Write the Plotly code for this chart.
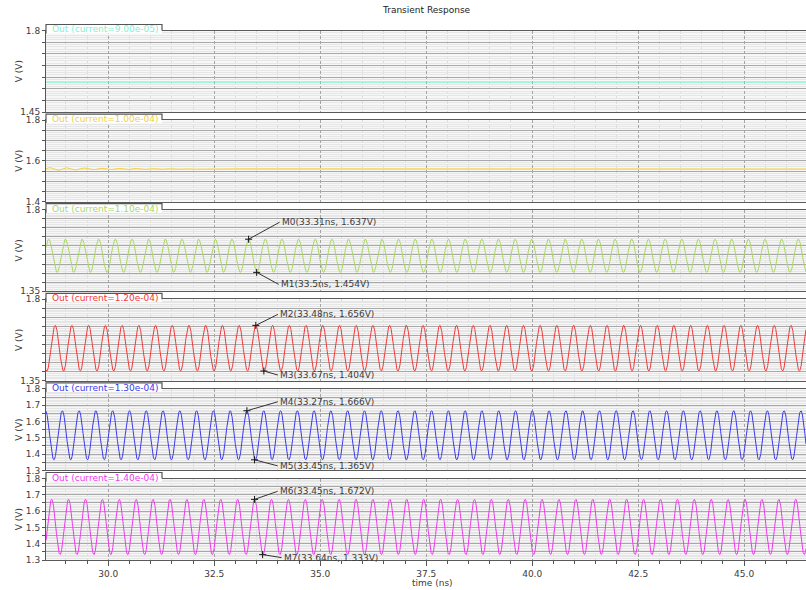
import numpy as np
import plotly.graph_objects as go

# ---------------- data ----------------
currents = ["9.00e-05", "1.00e-04", "1.10e-04", "1.20e-04", "1.30e-04", "1.40e-04"]
trace_colors = ["#7ff2d0", "#f0d040", "#a8d860", "#f03a3a", "#3a3aee", "#ee3aee"]
y_min = [1.45, 1.40, 1.35, 1.35, 1.30, 1.30]
y_max = [1.80, 1.80, 1.80, 1.80, 1.80, 1.80]
y_labels = [
    [1.8, 1.45],
    [1.8, 1.6, 1.4],
    [1.8, 1.35],
    [1.8, 1.35],
    [1.8, 1.7, 1.6, 1.5, 1.4, 1.3],
    [1.8, 1.7, 1.6, 1.5, 1.4, 1.3],
]
x_ticks = [30.0, 32.5, 35.0, 37.5, 40.0, 42.5, 45.0]
t_start, t_end = 28.53, 46.46  # ns, visible window

# panel 1: flat output
level_1 = 1.578
# panel 2: settles to a level with a small decaying ripple
level_2 = 1.560
ripple_2_amp = 0.007
ripple_2_tau = 2.2      # ns
ripple_2_period = 0.40  # ns
ripple_2_peak_t = 28.62

# panels 3..6: steady oscillation (peak time, peak V, trough V, period ns)
osc_peak_t = [33.31, 33.48, 33.27, 33.45]
osc_peak_v = [1.637, 1.656, 1.666, 1.672]
osc_trough_v = [1.454, 1.404, 1.365, 1.333]
osc_period = [0.393, 0.3945, 0.396, 0.399]

# markers
marker_names = ["M0", "M1", "M2", "M3", "M4", "M5", "M6", "M7"]
marker_t = [33.31, 33.5, 33.48, 33.67, 33.27, 33.45, 33.45, 33.64]
marker_v = [1.637, 1.454, 1.656, 1.404, 1.666, 1.365, 1.672, 1.333]
marker_panel = [3, 3, 4, 4, 5, 5, 6, 6]

# ---------------- layout geometry (pixels) ----------------
W, H = 806, 590
ML, MR, MT, MB = 46, 0, 30, 30
PW, PH = W - ML - MR, H - MT - MB
panel_top = [30.5 + 89.6 * i for i in range(6)]
panel_h = 81.5
label_offsets = [(31, -17), (22, 12), (22, -11), (14, 4),
                 (31, -9), (23, 6), (23, -8), (19, 3)]

def px_x(px):
    return (px - ML) / PW

def px_y(py):
    return (H - MB - py) / PH

FONT = "DejaVu Sans"
TXT = "#3c3c3c"

fig = go.Figure()
t = np.linspace(t_start, t_end, 3200)

waves = []
waves.append(np.full_like(t, level_1))
waves.append(level_2 + ripple_2_amp * np.exp(-(t - t_start) / ripple_2_tau)
             * np.cos(2 * np.pi * (t - ripple_2_peak_t) / ripple_2_period))
for k in range(4):
    mid = (osc_peak_v[k] + osc_trough_v[k]) / 2
    amp = (osc_peak_v[k] - osc_trough_v[k]) / 2
    waves.append(mid + amp * np.cos(2 * np.pi * (t - osc_peak_t[k]) / osc_period[k]))

for i in range(6):
    n = "" if i == 0 else str(i + 1)
    fig.add_trace(go.Scatter(x=t, y=waves[i], mode="lines",
                             line=dict(color=trace_colors[i], width=1),
                             xaxis="x" + n, yaxis="y" + n, showlegend=False,
                             hoverinfo="skip"))

# markers
for j in range(len(marker_names)):
    p = marker_panel[j]
    n = "" if p == 1 else str(p)
    fig.add_trace(go.Scatter(x=[marker_t[j]], y=[marker_v[j]], mode="markers",
                             marker=dict(symbol="cross-thin", size=5,
                                         line=dict(color="#111", width=1)),
                             xaxis="x" + n, yaxis="y" + n, showlegend=False,
                             hoverinfo="skip"))

layout = dict(
    width=W, height=H,
    margin=dict(l=ML, r=MR, t=MT, b=MB),
    paper_bgcolor="white", plot_bgcolor="#f7f7f7",
    font=dict(family=FONT, size=9, color=TXT),
    showlegend=False,
)

annotations = []
shapes = []
for i in range(6):
    n = "" if i == 0 else str(i + 1)
    top = panel_top[i]
    bot = top + panel_h
    dom = [px_y(bot), px_y(top)]
    tv = [round(v, 2) for v in np.arange(y_min[i], y_max[i] + 1e-9, 0.05)]
    tt = [(f"{v:g}" if any(abs(v - L) < 1e-9 for L in y_labels[i]) else "") for v in tv]
    layout["yaxis" + n] = dict(
        domain=dom, range=[y_min[i], y_max[i]], anchor="x" + n,
        tickmode="array", tickvals=tv, ticktext=tt,
        ticks="outside", ticklen=3, tickcolor="#555",
        showline=True, linecolor="#555", linewidth=1, mirror=False,
        showgrid=True, gridcolor="#a8a8a8", gridwidth=1, zeroline=False,
        minor=dict(dtick=0.01, tick0=0, showgrid=True, gridcolor="#e6e6e6"),
        tickfont=dict(family=FONT, size=9, color=TXT), automargin=False,
        fixedrange=True,
    )
    xa = dict(
        domain=[0, 1], range=[t_start, t_end], anchor="y" + n,
        tickmode="array", tickvals=x_ticks,
        ticktext=[f"{v:.1f}" for v in x_ticks],
        showticklabels=(i == 5),
        ticks="outside" if i == 5 else "", ticklen=5, tickcolor="#555",
        showline=True, linecolor="#5a5a5a", linewidth=1, mirror=True,
        showgrid=True, gridcolor="#a4a4a4", griddash="3px,2px", gridwidth=1,
        zeroline=False,
        minor=dict(dtick=0.5, tick0=0, showgrid=True, gridcolor="#dcdcdc",
                   ticks="outside" if i == 5 else "", ticklen=3, tickcolor="#555"),
        tickfont=dict(family=FONT, size=9, color=TXT), automargin=False,
        fixedrange=True,
    )
    if i > 0:
        xa["matches"] = "x"
    layout["xaxis" + n] = xa

    # tab box with the signal name
    shapes.append(dict(type="rect", xref="paper", yref="paper",
                       x0=px_x(46), x1=px_x(162), y0=px_y(top + 3), y1=px_y(top - 6),
                       fillcolor="white", line=dict(width=0), layer="above"))
    shapes.append(dict(type="path", xref="paper", yref="paper",
                       path=f"M {px_x(46)},{px_y(top + 3)} L {px_x(46)},{px_y(top - 6)} "
                            f"L {px_x(162)},{px_y(top - 6)} L {px_x(162)},{px_y(top)}",
                       line=dict(color="#555", width=1.2), layer="above"))
    annotations.append(dict(xref="paper", yref="paper", x=px_x(49.5), y=px_y(top - 1),
                            xanchor="left", yanchor="middle", showarrow=False,
                            text=f"Out (current={currents[i]})",
                            font=dict(family=FONT, size=9, color=trace_colors[i])))
    annotations.append(dict(xref="paper", yref="paper", x=px_x(19), y=px_y(top + panel_h / 2),
                            xanchor="center", yanchor="middle", showarrow=False,
                            textangle=-90, text="V (V)",
                            font=dict(family=FONT, size=9, color=TXT)))

for j in range(len(marker_names)):
    p = marker_panel[j]
    n = "" if p == 1 else str(p)
    ax, ay = label_offsets[j]
    annotations.append(dict(
        xref="x" + n, yref="y" + n, x=marker_t[j], y=marker_v[j],
        text=f"{marker_names[j]}({marker_t[j]:g}ns, {marker_v[j]:g}V)",
        showarrow=True, arrowhead=0, arrowwidth=1, arrowcolor="#333",
        ax=ax, ay=ay, xanchor="left", yanchor="middle",
        font=dict(family=FONT, size=9, color=TXT)))

annotations.append(dict(xref="paper", yref="paper", x=px_x(426), y=px_y(10),
                        xanchor="center", yanchor="middle", showarrow=False,
                        text="Transient Response",
                        font=dict(family=FONT, size=9, color="#222")))
annotations.append(dict(xref="paper", yref="paper", x=px_x(432), y=px_y(583),
                        xanchor="center", yanchor="middle", showarrow=False,
                        text="time (ns)",
                        font=dict(family=FONT, size=9, color=TXT)))

layout["annotations"] = annotations
layout["shapes"] = shapes
fig.update_layout(**layout)
fig.write_html("out.html")
